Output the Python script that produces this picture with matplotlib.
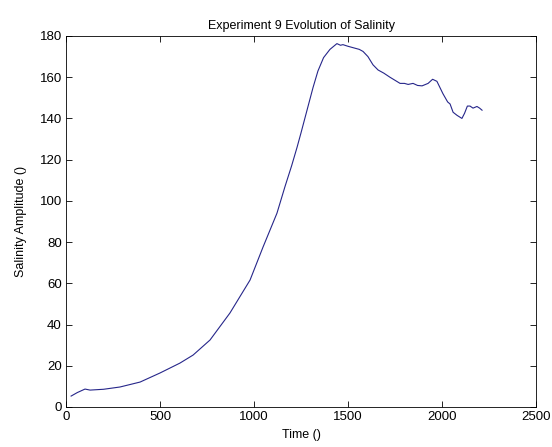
import matplotlib
matplotlib.use("Agg")
import matplotlib.pyplot as plt

# values
time = [27, 60, 101, 128, 200, 287, 394, 500, 606, 676, 766, 872, 979,
        1048, 1122, 1165, 1200, 1229, 1250, 1282, 1314, 1340, 1370, 1404,
        1441, 1460, 1473, 1500, 1520, 1540, 1560, 1580, 1606, 1633, 1660,
        1690, 1723, 1750, 1777, 1800, 1820, 1846, 1870, 1894, 1926, 1950,
        1973, 2005, 2030, 2043, 2059, 2080, 2106, 2120, 2135, 2149, 2165,
        2186, 2200, 2213]
salinity = [5.3, 7.0, 8.7, 8.2, 8.6, 9.7, 12.1, 16.5, 21.3, 25.2, 32.5,
            45.6, 61.6, 77.6, 94.0, 107.0, 117.0, 126.0, 133.0, 144.0,
            155.0, 163.0, 169.5, 173.5, 176.3, 175.5, 175.8, 175.0, 174.5,
            174.0, 173.5, 172.5, 170.0, 166.0, 163.5, 162.0, 160.0, 158.5,
            157.0, 157.0, 156.5, 157.0, 156.0, 155.8, 157.0, 159.0, 158.0,
            152.0, 148.0, 147.0, 143.0, 141.5, 140.0, 142.5, 146.0, 146.0,
            145.0, 145.8, 145.0, 144.0]

xticks = [0, 500, 1000, 1500, 2000, 2500]
yticks = [0, 20, 40, 60, 80, 100, 120, 140, 160, 180]

plt.rcParams['font.family'] = ['Liberation Sans', 'DejaVu Sans']
plt.rcParams['font.size'] = 9

fig = plt.figure(figsize=(5.52, 4.47), dpi=100)
ax = fig.add_axes([0.1196, 0.0895, 0.8514, 0.83])

ax.plot(time, salinity, color='#26268a', linewidth=0.8)

ax.set_xlim(0, 2500)
ax.set_ylim(0, 180)
ax.set_xticks(xticks)
ax.set_yticks(yticks)
ax.tick_params(direction='in', length=4, width=0.6, top=True, right=True,
               labelsize=9.5, pad=3)
for s in ax.spines.values():
    s.set_linewidth(0.6)

ax.set_title("Experiment 9 Evolution of Salinity", fontsize=9, pad=5)
ax.set_xlabel("Time ()", fontsize=9, labelpad=4)
ax.set_ylabel("Salinity Amplitude ()", fontsize=9, labelpad=9)

fig.savefig("out.png", dpi=100)
